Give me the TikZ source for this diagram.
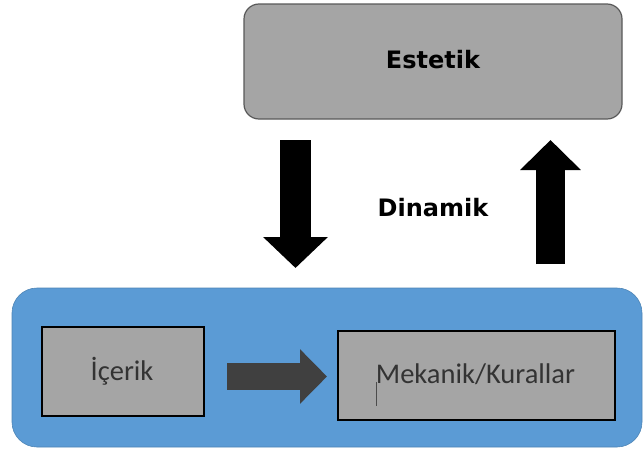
\documentclass[tikz,border=0pt]{standalone}
\usepackage{fontspec}
\setmainfont{Carlito}
\newfontfamily\boldsans{DejaVu Sans}
\usetikzlibrary{arrows.meta}
\definecolor{boxgray}{HTML}{A5A5A5}
\definecolor{panelblue}{HTML}{5B9BD5}
\definecolor{darkarrow}{HTML}{404040}
\tikzset{
  topbox/.style={draw=black!65, line width=1.2pt, fill=boxgray, rounded corners=15pt},
  panel/.style={draw=panelblue!85!black, line width=0.6pt, fill=panelblue, rounded corners=25pt},
  innerbox/.style={draw=black, line width=1.4pt, fill=boxgray},
  heading/.style={font=\boldsans\bfseries\fontsize{24}{28}\selectfont, text=black},
  label/.style={font=\fontsize{28.5}{32}\selectfont, text=black!80}
}
\begin{document}
\begin{tikzpicture}[x=1pt,y=-1pt]
\useasboundingbox (0,0) rectangle (643,450);
% top box
\draw[topbox] (244,4) rectangle (622,119);
\node[heading] (estetik) at (433,60) {Estetik};
% bottom panel
\draw[panel] (12,288) rectangle (642,447);
\node[innerbox, minimum width=162pt, minimum height=89pt, inner sep=0pt] (icerik) at (123,371.5) {};
\node[label] (ictext) at (122,371) {İçerik};
\node[innerbox, minimum width=277pt, minimum height=89pt, inner sep=0pt] (mekanik) at (476.5,375.5) {};
\node[label] (mektext) at (475.5,374) {Mekanik/Kurallar};
\draw[black!70, line width=0.8pt] (376,382) -- (376,406);
% label
\node[heading] (dinamik) at (433,208) {Dinamik};
% block arrows
\coordinate (dstart) at (295.5,140);
\coordinate (dend) at (295.5,268);
\coordinate (ustart) at (550.5,264);
\coordinate (uend) at (550.5,140);
\coordinate (hstart) at (227,376.5);
\coordinate (hend) at (327,376.5);
\draw[line width=31pt, black, -{Triangle[width=63pt,length=31pt]}] (dstart) -- (dend);
\draw[line width=29pt, black, -{Triangle[width=59pt,length=30pt]}] (ustart) -- (uend);
\draw[line width=27pt, darkarrow, -{Triangle[width=53pt,length=27pt]}] (hstart) -- (hend);
\end{tikzpicture}
\end{document}
